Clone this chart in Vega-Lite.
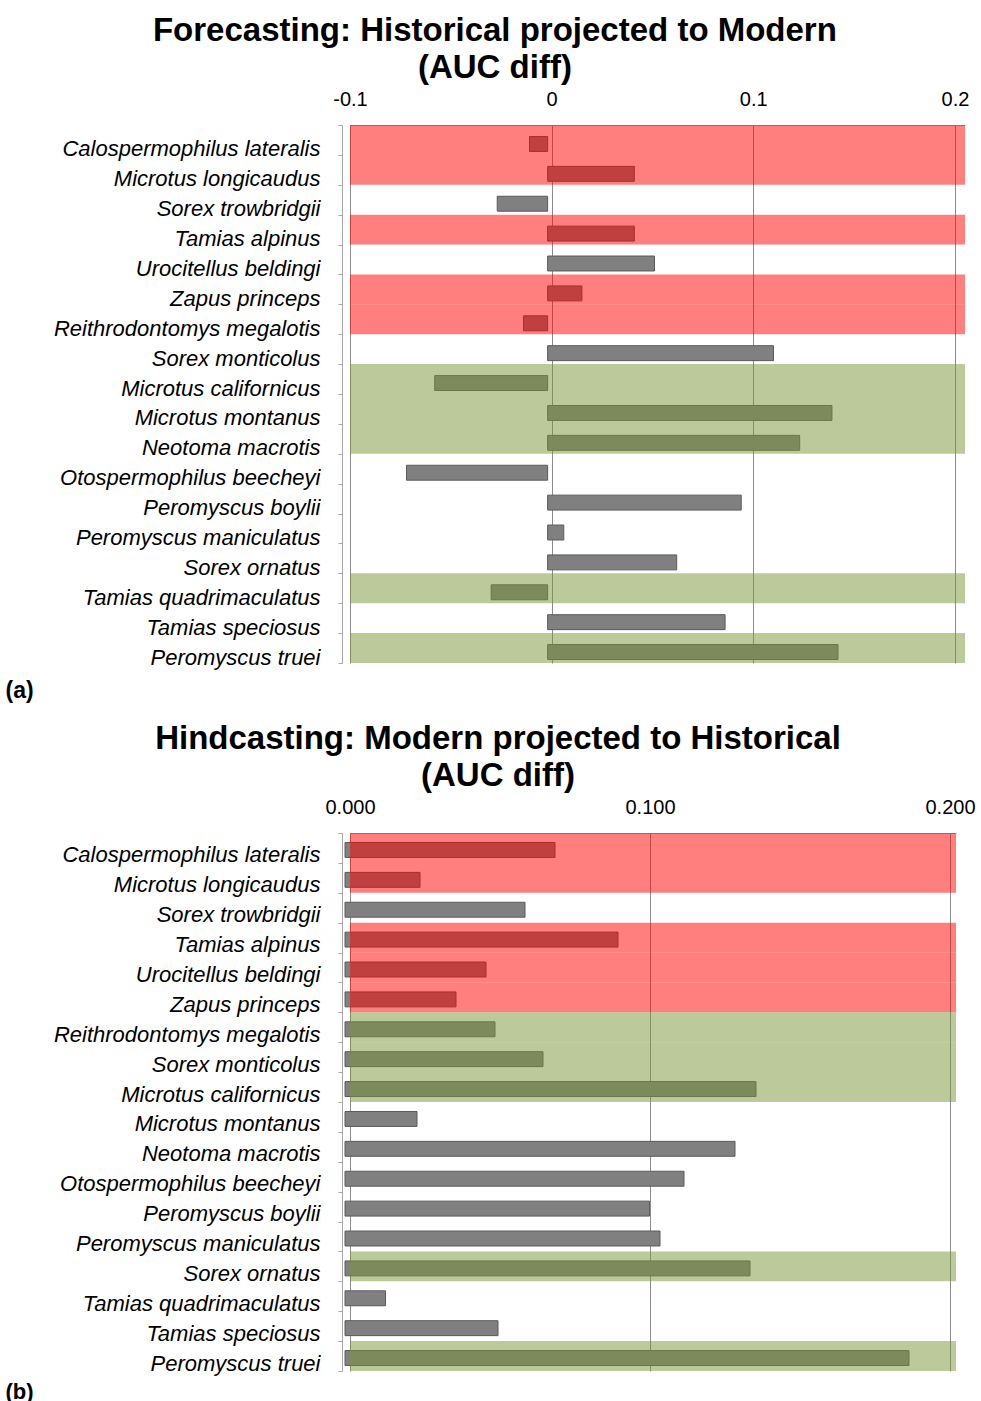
{
  "$schema": "https://vega.github.io/schema/vega-lite/v6.json",
  "background": "white",
  "padding": {"left": 5, "top": 15, "right": 0, "bottom": 0},
  "spacing": 21,
  "config": {
    "view": {"stroke": null},
    "font": "Liberation Sans",
    "title": {"font": "Liberation Sans", "fontSize": 33, "fontWeight": "bold", "color": "black", "lineHeight": 37, "anchor": "middle", "frame": "bounds", "offset": 0}
  },
  "datasets": {
    "a": [
      {"species": "Calospermophilus  lateralis", "value": -0.009, "band": "red"},
      {"species": "Microtus longicaudus", "value": 0.043, "band": "red"},
      {"species": "Sorex trowbridgii", "value": -0.025, "band": "none"},
      {"species": "Tamias alpinus", "value": 0.043, "band": "red"},
      {"species": "Urocitellus beldingi", "value": 0.053, "band": "none"},
      {"species": "Zapus princeps", "value": 0.017, "band": "red"},
      {"species": "Reithrodontomys megalotis", "value": -0.012, "band": "red"},
      {"species": "Sorex monticolus", "value": 0.112, "band": "none"},
      {"species": "Microtus californicus", "value": -0.056, "band": "green"},
      {"species": "Microtus montanus", "value": 0.141, "band": "green"},
      {"species": "Neotoma macrotis", "value": 0.125, "band": "green"},
      {"species": "Otospermophilus beecheyi", "value": -0.070, "band": "none"},
      {"species": "Peromyscus boylii", "value": 0.096, "band": "none"},
      {"species": "Peromyscus maniculatus", "value": 0.008, "band": "none"},
      {"species": "Sorex ornatus", "value": 0.064, "band": "none"},
      {"species": "Tamias quadrimaculatus", "value": -0.028, "band": "green"},
      {"species": "Tamias speciosus", "value": 0.088, "band": "none"},
      {"species": "Peromyscus truei", "value": 0.144, "band": "green"}
    ],
    "b": [
      {"species": "Calospermophilus  lateralis", "value": 0.070, "band": "red"},
      {"species": "Microtus longicaudus", "value": 0.025, "band": "red"},
      {"species": "Sorex trowbridgii", "value": 0.060, "band": "none"},
      {"species": "Tamias alpinus", "value": 0.091, "band": "red"},
      {"species": "Urocitellus beldingi", "value": 0.047, "band": "red"},
      {"species": "Zapus princeps", "value": 0.037, "band": "red"},
      {"species": "Reithrodontomys megalotis", "value": 0.050, "band": "green"},
      {"species": "Sorex monticolus", "value": 0.066, "band": "green"},
      {"species": "Microtus californicus", "value": 0.137, "band": "green"},
      {"species": "Microtus montanus", "value": 0.024, "band": "none"},
      {"species": "Neotoma macrotis", "value": 0.130, "band": "none"},
      {"species": "Otospermophilus beecheyi", "value": 0.113, "band": "none"},
      {"species": "Peromyscus boylii", "value": 0.1015, "band": "none"},
      {"species": "Peromyscus maniculatus", "value": 0.105, "band": "none"},
      {"species": "Sorex ornatus", "value": 0.135, "band": "green"},
      {"species": "Tamias quadrimaculatus", "value": 0.0135, "band": "none"},
      {"species": "Tamias speciosus", "value": 0.051, "band": "none"},
      {"species": "Peromyscus truei", "value": 0.188, "band": "green"}
    ]
  },
  "vconcat": [
    {
      "title": {"text": ["Forecasting: Historical projected to Modern", "(AUC diff)"], "dx": 8},
      "width": 615,
      "height": 538,
      "data": {"name": "a"},
      "encoding": {
        "y": {
          "field": "species", "type": "nominal",
          "scale": {"paddingInner": 0, "paddingOuter": 0, "domain": ["Calospermophilus  lateralis", "Microtus longicaudus", "Sorex trowbridgii", "Tamias alpinus", "Urocitellus beldingi", "Zapus princeps", "Reithrodontomys megalotis", "Sorex monticolus", "Microtus californicus", "Microtus montanus", "Neotoma macrotis", "Otospermophilus beecheyi", "Peromyscus boylii", "Peromyscus maniculatus", "Sorex ornatus", "Tamias quadrimaculatus", "Tamias speciosus", "Peromyscus truei"]},
          "axis": {
            "title": "(a)", "titleAngle": 0, "titleAlign": "left", "titleBaseline": "middle", "titleX": -337, "titleY": 565,
            "titleFont": "Liberation Sans", "titleFontSize": 23, "titleFontWeight": "bold", "titleColor": "black",
            "labelFont": "Liberation Sans", "labelFontSize": 22, "labelFontStyle": "italic", "labelColor": "black", "labelLimit": 0,
            "labelPadding": 18, "labelOffset": 9, "offset": 8,
            "domain": true, "domainColor": "#a6a6a6", "ticks": true, "tickBand": "extent", "tickSize": 4, "tickColor": "#a6a6a6",
            "grid": false
          }
        }
      },
      "layer": [
        {
          "mark": {"type": "bar", "height": {"band": 0.5}, "yOffset": 4, "xOffset": -4, "color": "#808080", "stroke": "#5a5a5a", "strokeWidth": 1},
          "encoding": {
            "x": {
              "field": "value", "type": "quantitative",
              "scale": {"domain": [-0.1, 0.205], "nice": false, "zero": false},
              "axis": {
                "orient": "top", "title": null, "values": [-0.1, 0, 0.1, 0.2],
                "labelExpr": "datum.value == 0 ? '0' : (datum.value < 0 ? '-' + format(-datum.value, '.1f') : format(datum.value, '.1f'))",
                "labelFont": "Liberation Sans", "labelFontSize": 20, "labelColor": "black", "labelPadding": 16,
                "ticks": false, "domain": true, "domainColor": "#a6a6a6",
                "grid": true, "gridColor": "#8c8c8c", "gridWidth": 1, "labelFlush": false
              }
            }
          }
        },
        {
          "transform": [{"filter": "datum.band != 'none'"}],
          "mark": {"type": "rect", "opacity": 0.5},
          "encoding": {
            "x": {"datum": -0.1},
            "x2": {"datum": 0.205},
            "color": {"field": "band", "type": "nominal", "scale": {"domain": ["red", "green"], "range": ["#ff0000", "#799537"]}, "legend": null}
          }
        }
      ]
    },
    {
      "title": {"text": ["Hindcasting: Modern projected to Historical", "(AUC diff)"], "dx": 8},
      "width": 606,
      "height": 538,
      "data": {"name": "b"},
      "encoding": {
        "y": {
          "field": "species", "type": "nominal",
          "scale": {"paddingInner": 0, "paddingOuter": 0, "domain": ["Calospermophilus  lateralis", "Microtus longicaudus", "Sorex trowbridgii", "Tamias alpinus", "Urocitellus beldingi", "Zapus princeps", "Reithrodontomys megalotis", "Sorex monticolus", "Microtus californicus", "Microtus montanus", "Neotoma macrotis", "Otospermophilus beecheyi", "Peromyscus boylii", "Peromyscus maniculatus", "Sorex ornatus", "Tamias quadrimaculatus", "Tamias speciosus", "Peromyscus truei"]},
          "axis": {
            "title": "(b)", "titleAngle": 0, "titleAlign": "left", "titleBaseline": "middle", "titleX": -337, "titleY": 558,
            "titleFont": "Liberation Sans", "titleFontSize": 22, "titleFontWeight": "bold", "titleColor": "black",
            "labelFont": "Liberation Sans", "labelFontSize": 22, "labelFontStyle": "italic", "labelColor": "black", "labelLimit": 0,
            "labelPadding": 18, "labelOffset": 7, "offset": 8,
            "domain": true, "domainColor": "#a6a6a6", "ticks": true, "tickBand": "extent", "tickSize": 4, "tickColor": "#a6a6a6",
            "grid": false
          }
        }
      },
      "layer": [
        {
          "mark": {"type": "bar", "height": {"band": 0.5}, "yOffset": 2, "xOffset": -5, "color": "#808080", "stroke": "#5a5a5a", "strokeWidth": 1},
          "encoding": {
            "x": {
              "field": "value", "type": "quantitative",
              "scale": {"domain": [0, 0.202], "nice": false, "zero": false},
              "axis": {
                "orient": "top", "title": null, "values": [0, 0.1, 0.2], "format": ".3f",
                "labelFont": "Liberation Sans", "labelFontSize": 20, "labelColor": "black", "labelPadding": 16,
                "ticks": false, "domain": true, "domainColor": "#a6a6a6",
                "grid": true, "gridColor": "#8c8c8c", "gridWidth": 1, "labelFlush": false
              }
            }
          }
        },
        {
          "transform": [{"filter": "datum.band != 'none'"}],
          "mark": {"type": "rect", "opacity": 0.5},
          "encoding": {
            "x": {"datum": 0},
            "x2": {"datum": 0.202},
            "color": {"field": "band", "type": "nominal", "scale": {"domain": ["red", "green"], "range": ["#ff0000", "#799537"]}, "legend": null}
          }
        }
      ]
    }
  ]
}
